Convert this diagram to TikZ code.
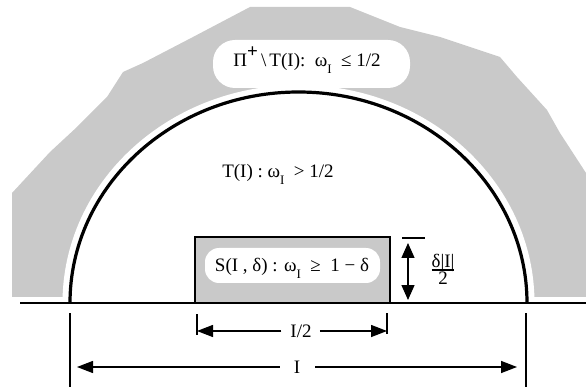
\documentclass[tikz,border=0pt]{standalone}
\usepackage{fontspec}
\setmainfont{Liberation Serif}
\usetikzlibrary{arrows.meta}
\definecolor{stipple}{gray}{0.79}
\setlength{\arrayrulewidth}{1.3pt}
\newcommand{\wsub}{ω\raisebox{-7pt}{\fontsize{13}{13}\selectfont I}}
\tikzset{
  stippled/.style={fill=stipple},
  dimline/.style={line width=1.6pt},
  dimarrow/.style={line width=1.4pt,-{Triangle[length=16pt,width=12pt]}},
  lbl/.style={font=\fontsize{19}{21}\selectfont,inner sep=0pt},
}
\begin{document}
\begin{tikzpicture}[x=1pt,y=-1pt]
  \useasboundingbox (0,0) rectangle (586,387);
  % stippled band outside T(I)
  \fill[stippled] (12,297) -- (12,193) -- (50,152) -- (77,127) -- (107,97) -- (123,72)
    -- (143,63) -- (193,37) -- (250,7) -- (350,7) -- (400,27) -- (440,37) -- (500,57)
    -- (517,77) -- (547,110) -- (560,133) -- (586,173) -- (586,297) -- cycle;
  \fill[white] (62.5,303) arc[start angle=180,end angle=360,x radius=236,y radius=218] -- cycle;
  \fill[white] (0,297) rectangle (586,312);
  \fill[white,rounded corners=22pt] (213,40) rectangle (410,88);
  % half disc T(I)
  \draw[line width=3.2pt] (70,303) arc[start angle=180,end angle=360,x radius=228.5,y radius=211];
  % S(I,delta)
  \draw[line width=2pt,stippled] (195,303) rectangle (390,237);
  \fill[white,rounded corners=14pt] (205,248) rectangle (380,283);
  \draw[line width=2.6pt] (20,303) -- (586,303);
  % labels
  \node[lbl,anchor=base] (outside) at (307,67) {Π\raisebox{9pt}{\textbf{+}}\,\textbackslash\,T(I):\ \ \wsub\ \ ≤ 1/2};
  \node[lbl,anchor=base] (inside) at (278,178) {T(I) : \wsub\ \ > 1/2};
  \node[lbl,anchor=base] (strip) at (292,272) {S(I , δ) : \wsub\ \ ≥ \ 1 − δ};
  % height of S
  \coordinate (barL) at (402,238);
  \coordinate (barR) at (425,238);
  \coordinate (htop) at (408,243);
  \coordinate (hbot) at (408,300);
  \draw[dimline] (barL) -- (barR);
  \draw[dimarrow,{Triangle[length=15pt,width=13pt]}-{Triangle[length=15pt,width=13pt]}] (htop) -- (hbot);
  \node[font=\fontsize{19}{20}\selectfont,inner sep=0pt] (height) at (443,272)
    {\begin{tabular}{@{}c@{}}δ|I|\\[-4pt]\hline 2\end{tabular}};
  % I/2
  \coordinate (qL) at (197,314);
  \coordinate (qL') at (197,335);
  \coordinate (qR) at (387,313);
  \coordinate (qR') at (387,334);
  \draw[dimline] (qL) -- (qL');
  \draw[dimline] (qR) -- (qR');
  \node[lbl] (half) at (301,331) {I/2};
  \draw[dimarrow,shorten <=9pt] (half.west) -- (half.west -| qL);
  \draw[dimarrow,shorten <=8pt] (half.east) -- (half.east -| qR);
  % I
  \coordinate (wL) at (70,313);
  \coordinate (wL') at (70,387);
  \coordinate (wR) at (526,313);
  \coordinate (wR') at (526,387);
  \draw[dimline] (wL) -- (wL');
  \draw[dimline] (wR) -- (wR');
  \node[lbl] (whole) at (297,367) {I};
  \draw[dimarrow,shorten <=14pt,shorten >=7pt] (whole.west) -- (whole.west -| wL);
  \draw[dimarrow,shorten <=15pt,shorten >=9pt] (whole.east) -- (whole.east -| wR);
\end{tikzpicture}
\end{document}
